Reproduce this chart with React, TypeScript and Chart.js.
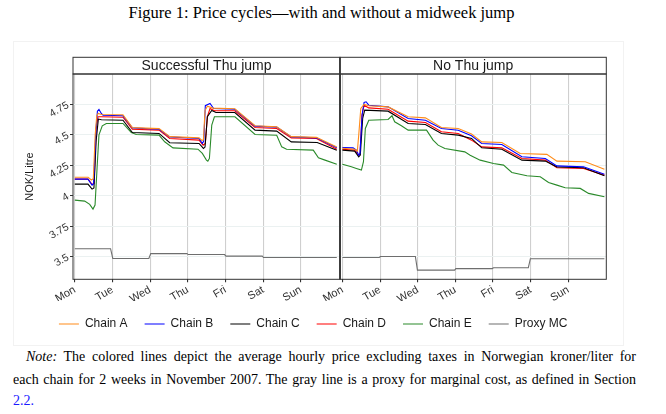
import { useEffect, useRef } from 'react';
import { Chart, registerables } from 'chart.js';

Chart.register(...registerables);

// ---------- data (hours since Monday 00:00 of each week, NOK/litre) ----------
type Pt = [number, number];

const DAYS = ['Mon', 'Tue', 'Wed', 'Thu', 'Fri', 'Sat', 'Sun'];
const PANEL_TITLES = ['Successful Thu jump', 'No Thu jump'];
const Y_TICKS = [3.5, 3.75, 4, 4.25, 4.5, 4.75];
const SERIES = ['Chain A', 'Chain B', 'Chain C', 'Chain D', 'Chain E', 'Proxy MC'];
const COLORS = ['#ff8c1a', '#0000ff', '#000000', '#ff0000', '#2a8a2a', '#6e6e6e'];

// Week 1: successful Thursday jump
const chainA_w1: Pt[] = [[0, 4.153], [8.5, 4.153], [10.5, 4.13], [11.8, 4.14], [13.0, 4.5], [14.0, 4.66], [15.0, 4.676], [17, 4.668], [30.7, 4.665], [36.7, 4.56], [53.7, 4.552], [60.5, 4.486], [79.2, 4.476], [81.0, 4.455], [82.0, 4.46], [83.0, 4.7], [84.5, 4.735], [88, 4.72], [102, 4.715], [114.9, 4.575], [128.7, 4.566], [138, 4.486], [154, 4.48], [167, 4.4]];
const chainB_w1: Pt[] = [[0, 4.137], [8.4, 4.137], [11, 4.088], [12, 4.1], [13.3, 4.5], [14.4, 4.695], [15.4, 4.709], [16.9, 4.676], [18, 4.662], [30.7, 4.657], [36.7, 4.558], [53.7, 4.547], [60.5, 4.484], [79.2, 4.471], [81.3, 4.43], [82.2, 4.45], [83.2, 4.74], [86.2, 4.758], [88.5, 4.717], [102, 4.711], [114.9, 4.572], [128.7, 4.564], [138, 4.484], [154, 4.476], [167, 4.394]];
const chainC_w1: Pt[] = [[0, 4.096], [8.4, 4.096], [11, 4.055], [12.2, 4.065], [13.6, 4.45], [15, 4.63], [17, 4.625], [30.7, 4.621], [36.7, 4.52], [53.7, 4.512], [60.5, 4.436], [79.2, 4.43], [82, 4.389], [83, 4.4], [84.5, 4.65], [87.3, 4.7], [90, 4.684], [102, 4.684], [114.9, 4.539], [128.7, 4.531], [138, 4.443], [154.5, 4.438], [167, 4.375]];
const chainD_w1: Pt[] = [[0, 4.137], [8.4, 4.137], [11, 4.095], [12.3, 4.1], [13.6, 4.55], [14.8, 4.649], [17, 4.649], [30.7, 4.645], [36.7, 4.547], [53.7, 4.539], [60.5, 4.471], [79.2, 4.457], [81.8, 4.416], [83.2, 4.43], [84.5, 4.65], [86.2, 4.717], [89, 4.698], [102, 4.698], [114.9, 4.561], [128.7, 4.553], [138, 4.476], [154, 4.471], [167, 4.383]];
const chainE_w1: Pt[] = [[0, 3.965], [6.3, 3.957], [9.5, 3.93], [11.6, 3.891], [12.9, 3.924], [14.2, 4.23], [15.4, 4.5], [17.5, 4.575], [20.1, 4.594], [30.7, 4.594], [36, 4.52], [39.2, 4.504], [53.7, 4.498], [57.3, 4.444], [62.6, 4.394], [78.5, 4.383], [81.3, 4.348], [83.9, 4.293], [84.8, 4.285], [85.8, 4.307], [87.3, 4.58], [89, 4.649], [102.1, 4.649], [114.9, 4.504], [128.7, 4.498], [131.9, 4.402], [135, 4.383], [152, 4.375], [155.3, 4.312], [159.5, 4.293], [167, 4.26]];
const proxyMC_w1: Pt[] = [[0, 3.566], [22.8, 3.566], [24.2, 3.486], [47.2, 3.486], [48.4, 3.526], [71.5, 3.526], [72.3, 3.518], [95.5, 3.518], [96.3, 3.505], [119.5, 3.505], [120.3, 3.494], [167, 3.494]];

// Week 2: no Thursday jump
const chainA_w2: Pt[] = [[0, 4.39], [7.8, 4.383], [9.5, 4.367], [10.4, 4.5], [11.7, 4.717], [13.8, 4.75], [16.8, 4.739], [29.1, 4.73], [41.9, 4.649], [52.9, 4.64], [63.1, 4.561], [73.8, 4.553], [82.3, 4.508], [88.8, 4.443], [101.6, 4.438], [113.3, 4.348], [130.3, 4.34], [136.7, 4.285], [154.8, 4.28], [167, 4.219]];
const chainB_w2: Pt[] = [[0, 4.397], [6.8, 4.394], [8.9, 4.375], [10.4, 4.334], [11.2, 4.348], [12.5, 4.662], [13.8, 4.766], [15.1, 4.772], [16.8, 4.744], [29.1, 4.73], [41.9, 4.635], [52.9, 4.621], [63.1, 4.553], [73.8, 4.539], [82.3, 4.493], [88.8, 4.43], [101.6, 4.422], [114.4, 4.321], [129.3, 4.307], [136.7, 4.246], [153.7, 4.238], [167, 4.178]];
const chainC_w2: Pt[] = [[0, 4.375], [7.8, 4.367], [10.4, 4.32], [11.4, 4.334], [12.9, 4.635], [14.2, 4.703], [29.1, 4.695], [41.9, 4.594], [52.9, 4.586], [63.1, 4.512], [73.8, 4.498], [82.3, 4.471], [88.8, 4.394], [101.6, 4.383], [114.4, 4.293], [129.3, 4.285], [136.7, 4.238], [153.7, 4.23], [167, 4.165]];
const chainD_w2: Pt[] = [[0, 4.383], [7.8, 4.375], [10.4, 4.329], [11.2, 4.348], [12.5, 4.662], [13.8, 4.744], [16.8, 4.722], [29.1, 4.711], [41.9, 4.613], [52.9, 4.602], [63.1, 4.526], [73.8, 4.512], [82.3, 4.457], [88.8, 4.402], [101.6, 4.394], [114.4, 4.307], [129.3, 4.293], [136.7, 4.23], [153.7, 4.225], [167, 4.17]];
const chainE_w2: Pt[] = [[0, 4.259], [5.7, 4.238], [8.9, 4.225], [12.1, 4.211], [13.4, 4.28], [14.6, 4.553], [16.8, 4.621], [29.1, 4.627], [31.6, 4.657], [33.3, 4.608], [37.6, 4.575], [41.9, 4.539], [53.6, 4.539], [57.8, 4.457], [61, 4.416], [65.3, 4.389], [78, 4.361], [81.4, 4.334], [87.8, 4.293], [96.3, 4.266], [102.7, 4.252], [108, 4.192], [117.6, 4.165], [126.1, 4.157], [131.4, 4.11], [136.7, 4.088], [142, 4.066], [151.6, 4.061], [156.9, 4.02], [167, 3.992]];
const proxyMC_w2: Pt[] = [[0, 3.494], [23.5, 3.494], [24.2, 3.502], [46.5, 3.502], [47.8, 3.39], [71.5, 3.39], [72.3, 3.403], [95.5, 3.403], [96.3, 3.41], [118.5, 3.41], [119.8, 3.484], [167, 3.484]];

const WEEK1 = [chainA_w1, chainB_w1, chainC_w1, chainD_w1, chainE_w1, proxyMC_w1];
const WEEK2 = [chainA_w2, chainB_w2, chainC_w2, chainD_w2, chainE_w2, proxyMC_w2];

// ---------- layout of the faceted axis (in hours) ----------
const WEEK2_OFFSET = 170.6;
const PANEL_SPLIT = 169.05;
const X_MIN = -1.15;
const X_MAX = 338.8;
const Y_MIN = 3.315;
const Y_MAX = 5.0;
const X_TICKS = [...DAYS.map((_, i) => i * 24), ...DAYS.map((_, i) => WEEK2_OFFSET + i * 24)];

const SANS = '"Liberation Sans", Arial, sans-serif';
const SERIF = '"Liberation Serif", "Times New Roman", serif';

function toXY(w1: Pt[], w2: Pt[]) {
  return [
    ...w1.map(([h, v]) => ({ x: h, y: v as number | null })),
    { x: PANEL_SPLIT, y: null },
    ...w2.map(([h, v]) => ({ x: h + WEEK2_OFFSET, y: v as number | null })),
  ];
}

const STRIP_H = 16.7;

const panelPlugin = {
  id: 'panels',
  afterDraw(chart: any) {
    const { ctx, chartArea: a, scales } = chart;
    const split = scales.x.getPixelForValue(PANEL_SPLIT);
    const stripTop = a.top - STRIP_H;
    ctx.save();
    ctx.lineWidth = 1;
    ctx.strokeStyle = '#333333';
    const panels = [[a.left, split], [split, a.right]];
    panels.forEach(([l, r]: number[], i: number) => {
      ctx.fillStyle = '#ffffff';
      ctx.fillRect(l, stripTop, r - l, STRIP_H);
      ctx.strokeRect(l, stripTop, r - l, STRIP_H);
      ctx.strokeRect(l, a.top, r - l, a.bottom - a.top);
      ctx.fillStyle = '#1a1a1a';
      ctx.font = `14px ${SANS}`;
      ctx.textAlign = 'center';
      ctx.textBaseline = 'middle';
      ctx.fillText(PANEL_TITLES[i], (l + r) / 2, stripTop + STRIP_H / 2 + 0.5);
    });
    ctx.beginPath();
    ctx.lineWidth = 1.6;
    ctx.moveTo(split, stripTop);
    ctx.lineTo(split, a.bottom);
    ctx.stroke();
    ctx.restore();
  },
};

export default function App() {
  const ref = useRef<HTMLCanvasElement>(null);

  useEffect(() => {
    if (!ref.current) return;
    const chart = new Chart(ref.current, {
      type: 'line',
      data: {
        datasets: SERIES.map((name, i) => ({
          label: name,
          data: toXY(WEEK1[i], WEEK2[i]),
          borderColor: COLORS[i],
          backgroundColor: COLORS[i],
          borderWidth: 1.1,
          pointRadius: 0,
          pointHoverRadius: 0,
          fill: false,
          tension: 0,
          spanGaps: false,
        })),
      },
      options: {
        animation: false,
        responsive: false,
        events: [],
        layout: { padding: { left: 7, top: 33, right: 16.7, bottom: 5 } },
        plugins: {
          tooltip: { enabled: false },
          legend: {
            position: 'bottom',
            labels: {
              usePointStyle: true,
              pointStyle: 'line',
              pointStyleWidth: 20,
              padding: 17,
              color: '#1a1a1a',
              font: { family: SANS, size: 12 },
            },
          },
        },
        scales: {
          x: {
            type: 'linear',
            min: X_MIN,
            max: X_MAX,
            afterBuildTicks: (scale: any) => {
              scale.ticks = X_TICKS.map((v) => ({ value: v }));
            },
            afterFit: (scale: any) => {
              scale.height = 21.7;
            },
            border: { display: false },
            grid: {
              color: '#cfcfcf',
              lineWidth: 1.1,
              tickColor: '#333333',
              tickLength: 3,
            },
            ticks: {
              autoSkip: false,
              minRotation: 30,
              maxRotation: 30,
              padding: 1,
              color: '#333333',
              font: { family: SANS, size: 11 },
              callback: (_v: any, i: number) => DAYS[i % 7],
            },
          },
          y: {
            type: 'linear',
            min: Y_MIN,
            max: Y_MAX,
            afterBuildTicks: (scale: any) => {
              scale.ticks = Y_TICKS.map((v) => ({ value: v }));
            },
            afterFit: (scale: any) => {
              scale.width = 53;
            },
            border: { display: false },
            grid: {
              color: '#ebf1f1',
              lineWidth: 1,
              tickColor: '#333333',
              tickLength: 3,
            },
            ticks: {
              minRotation: 30,
              maxRotation: 30,
              padding: 2,
              color: '#333333',
              font: { family: SANS, size: 10.5 },
              callback: (v: any) => String(v),
            },
            title: {
              display: true,
              text: 'NOK/Litre',
              color: '#1a1a1a',
              font: { family: SANS, size: 11 },
              padding: { top: 3.4, bottom: 0 },
            },
          },
        },
      },
      plugins: [panelPlugin],
    } as any);
    return () => chart.destroy();
  }, []);

  const lineStyle = {
    position: 'absolute' as const,
    fontFamily: SERIF,
    fontSize: 14,
    lineHeight: '16px',
    color: '#000',
    textAlign: 'justify' as const,
    textAlignLast: 'justify' as const,
    whiteSpace: 'nowrap' as const,
  };

  return (
    <div style={{ position: 'absolute', left: 0, top: 0, width: 666, height: 414, background: '#ffffff' }}>
      <div
        style={{
          position: 'absolute',
          left: 0,
          width: 643,
          top: 4,
          textAlign: 'center',
          fontFamily: SERIF,
          fontSize: 16.5,
          lineHeight: '17px',
          whiteSpace: 'nowrap',
        }}
      >
        Figure 1: Price cycles—with and without a midweek jump
      </div>
      <div
        style={{
          position: 'absolute',
          left: 13,
          top: 41,
          width: 609,
          height: 303,
          border: '1px solid #f2f2f2',
        }}
      />
      <canvas ref={ref} width={610} height={304} style={{ position: 'absolute', left: 13, top: 41 }} />
      <div style={{ ...lineStyle, left: 26, top: 349, width: 610 }}>
        <i>Note:</i> The colored lines depict the average hourly price excluding taxes in Norwegian kroner/liter for
      </div>
      <div style={{ ...lineStyle, left: 13, top: 372, width: 623 }}>
        each chain for 2 weeks in November 2007. The gray line is a proxy for marginal cost, as defined in Section
      </div>
      <div style={{ ...lineStyle, left: 13, top: 393, width: 623, textAlignLast: 'left' }}>
        <span style={{ color: '#1a1aff' }}>2.2.</span>
      </div>
    </div>
  );
}
